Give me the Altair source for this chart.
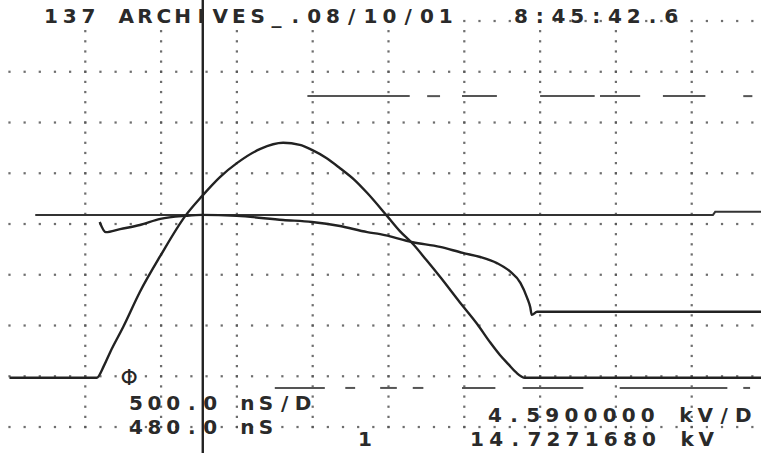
import altair as alt
import numpy as np
import pandas as pd

# Screen coordinates are in graticule divisions (10 x 8 grid, centre line at 0).
X_DOMAIN = [-0.125, 9.914]
Y_DOMAIN = [-4.512, 4.414]

# Channel 1: half-sine voltage pulse
pulse_t = [0.0, 1.15, 1.25, 1.33, 1.50, 1.72, 1.99, 2.32, 2.54, 2.78, 3.00, 3.31,
           3.61, 3.83, 3.99, 4.18, 4.36, 4.55, 4.72, 4.98, 5.15, 5.32, 5.50, 5.68,
           5.94, 6.17, 6.34, 6.47, 6.58, 6.68, 6.80, 9.92]
pulse_v = [-3.03, -3.03, -2.78, -2.52, -2.03, -1.34, -0.63, 0.16, 0.55, 0.93, 1.20, 1.48,
           1.60, 1.56, 1.46, 1.30, 1.10, 0.87, 0.61, 0.16, -0.14, -0.39, -0.71, -1.04,
           -1.54, -1.97, -2.33, -2.58, -2.76, -2.92, -3.03, -3.03]

# Channel 2: slowly sagging trace with a drop at the end of the pulse
ch2_t = [1.19, 1.27, 1.46, 1.72, 1.99, 2.32, 2.54, 3.00, 3.61, 3.99, 4.36, 4.72, 4.89,
         5.32, 5.68, 5.98, 6.21, 6.43, 6.60, 6.74, 6.83, 6.87, 6.89, 6.96, 9.92]
ch2_v = [0.04, -0.16, -0.10, -0.02, 0.10, 0.16, 0.18, 0.16, 0.08, 0.04, -0.04, -0.16, -0.20,
         -0.36, -0.45, -0.57, -0.65, -0.77, -0.93, -1.16, -1.46, -1.64, -1.79, -1.73, -1.73]

# Reference level line
level_t = [0.34, 9.28, 9.31, 9.92]
level_v = [0.18, 0.18, 0.24, 0.24]

# Time cursor
cursor_t = [2.55]

# Dashed marker rows (segment start / end)
upper_start = [3.93, 5.51, 5.97, 7.00, 7.79, 8.62, 9.68]
upper_end = [5.28, 5.68, 6.43, 7.72, 8.32, 9.18, 9.80]
upper_level = 2.52
lower_start = [3.50, 4.43, 4.89, 5.32, 5.97, 6.77, 8.05, 9.68]
lower_end = [4.16, 4.56, 5.11, 5.46, 6.41, 7.57, 9.47, 9.77]
lower_level = -3.23

# Screen read-outs: text, first character centre, character pitch, baseline
labels = ["137 ARCHIVES_.08/10/01   8:45:42.6", "500.0 nS/D", "480.0 nS", "1",
          "4.5900000 kV/D", "14.7271680 kV"]
label_t0 = [0.547, 1.669, 1.669, 4.690, 6.405, 6.168]
label_pitch = [0.248, 0.245, 0.245, 0.245, 0.252, 0.252]
label_v = [3.96, -3.665, -4.14, -4.37, -3.90, -4.37]

ground_t = [1.58]
ground_v = [-3.03]

INK = "#222222"
xs = alt.Scale(domain=X_DOMAIN, nice=False, zero=False)
ys = alt.Scale(domain=Y_DOMAIN, nice=False, zero=False)

# Graticule dots, five per division
dots = []
for r in range(1, 9):
    for t in np.arange(0, 10.001, 0.2):
        dots.append({"t": t, "v": 4 - r})
for t in np.arange(6, 10.001, 0.2):
    dots.append({"t": t, "v": 4})
for c in range(1, 10):
    for r in np.arange(0.2, 8.001, 0.2):
        dots.append({"t": c, "v": 4 - r})
grid = alt.Chart(pd.DataFrame(dots)).mark_square(size=5, color="#555555", opacity=0.85).encode(
    x=alt.X("t:Q", scale=xs, axis=None), y=alt.Y("v:Q", scale=ys, axis=None))

traces = pd.concat([
    pd.DataFrame({"t": pulse_t, "v": pulse_v, "ch": "1"}),
    pd.DataFrame({"t": ch2_t, "v": ch2_v, "ch": "2"}),
])
trace_lines = alt.Chart(traces).mark_line(interpolate="monotone", strokeWidth=2.4, color=INK).encode(
    x=alt.X("t:Q", scale=xs, axis=None), y=alt.Y("v:Q", scale=ys, axis=None), detail="ch:N")

level = alt.Chart(pd.DataFrame({"t": level_t, "v": level_v})).mark_line(strokeWidth=2, color="#333333").encode(
    x=alt.X("t:Q", scale=xs, axis=None), y=alt.Y("v:Q", scale=ys, axis=None))

cursor = alt.Chart(pd.DataFrame({"t": cursor_t})).mark_rule(strokeWidth=2.4, color=INK).encode(
    x=alt.X("t:Q", scale=xs, axis=None))

marks = pd.concat([
    pd.DataFrame({"t": upper_start, "t2": upper_end, "v": upper_level}),
    pd.DataFrame({"t": lower_start, "t2": lower_end, "v": lower_level}),
])
marker_rows = alt.Chart(marks).mark_rule(strokeWidth=2, color="#555555").encode(
    x=alt.X("t:Q", scale=xs, axis=None), x2="t2:Q", y=alt.Y("v:Q", scale=ys, axis=None))

chars = []
for s, t0, p, v in zip(labels, label_t0, label_pitch, label_v):
    for i, ch in enumerate(s):
        if ch != " ":
            chars.append({"t": t0 + i * p, "v": v, "ch": ch})
text = alt.Chart(pd.DataFrame(chars)).mark_text(
    font="DejaVu Sans", fontWeight="bold", fontSize=20, color="#2a2a2a",
    align="center", baseline="alphabetic").encode(
    x=alt.X("t:Q", scale=xs, axis=None), y=alt.Y("v:Q", scale=ys, axis=None), text="ch:N")

ground = alt.Chart(pd.DataFrame({"t": ground_t, "v": ground_v})).mark_text(
    text="Φ", font="DejaVu Sans", fontSize=22, color="#262626",
    align="center", baseline="middle").encode(
    x=alt.X("t:Q", scale=xs, axis=None), y=alt.Y("v:Q", scale=ys, axis=None))

chart = alt.layer(grid, marker_rows, level, cursor, trace_lines, text, ground).properties(
    width=761, height=453, padding=0, autosize=alt.AutoSizeParams(type="none"),
    background="white").configure_view(stroke=None)

chart.save("out.html", embed_options={"renderer": "svg", "actions": False})
